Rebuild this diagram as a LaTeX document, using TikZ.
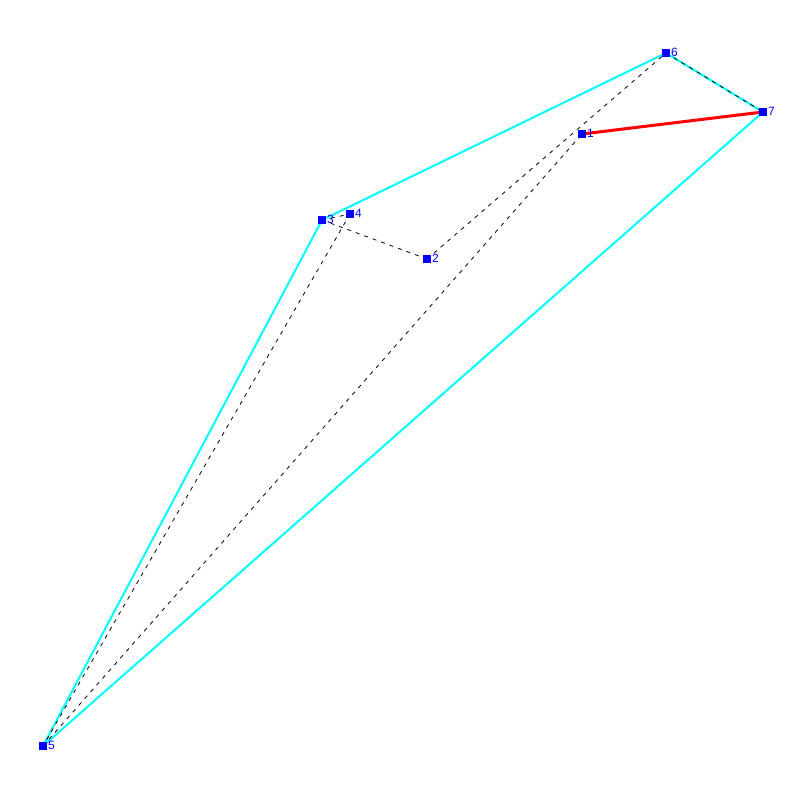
\documentclass[tikz,border=0pt]{standalone}
\usepackage{fontspec}
\setmainfont{Liberation Sans}
\usetikzlibrary{backgrounds}
\tikzset{
  pt/.style={fill={rgb,255:red,0;green,0;blue,255}, draw=none, minimum size=8pt, inner sep=0pt, outer sep=0pt},
  lbl/.style={text={rgb,255:red,0;green,0;blue,255}, font=\fontsize{12pt}{12pt}\selectfont, inner sep=0pt, anchor=base west},
  hull/.style={draw={rgb,255:red,0;green,255;blue,255}, line width=2pt},
  dashline/.style={draw=black, line width=0.8pt, dash pattern=on 4pt off 5pt},
  redl/.style={draw={rgb,255:red,255;green,0;blue,0}, line width=3pt}
}
\begin{document}
\begin{tikzpicture}[x=1pt,y=-1pt]
\useasboundingbox (0,0) rectangle (800,800);
\node[pt] (n1) at (582,134) {};
\node[pt] (n2) at (427,259) {};
\node[pt] (n3) at (322,220) {};
\node[pt] (n4) at (350,214) {};
\node[pt] (n5) at (43,746) {};
\node[pt] (n6) at (666,53) {};
\node[pt] (n7) at (763,112) {};
\foreach \i in {1,...,7} {
  \node[lbl] (l\i) at ([xshift=1pt,yshift=0.5pt]n\i.south east) {\i};
}
\begin{pgfonlayer}{background}
\draw[hull] (n5.center) -- (n3.center) -- (n6.center) -- (n7.center) -- cycle;
\draw[dashline] (n3.center) -- (n4.center);
\draw[dashline] (n3.center) -- (n2.center);
\draw[dashline] (n2.center) -- (n6.center);
\draw[dashline] (n4.center) -- (n5.center);
\draw[dashline] (n5.center) -- (n1.center);
\draw[dashline] (n6.center) -- (n7.center);
\draw[redl] (n1.center) -- (n7.center);
\end{pgfonlayer}
\end{tikzpicture}
\end{document}
